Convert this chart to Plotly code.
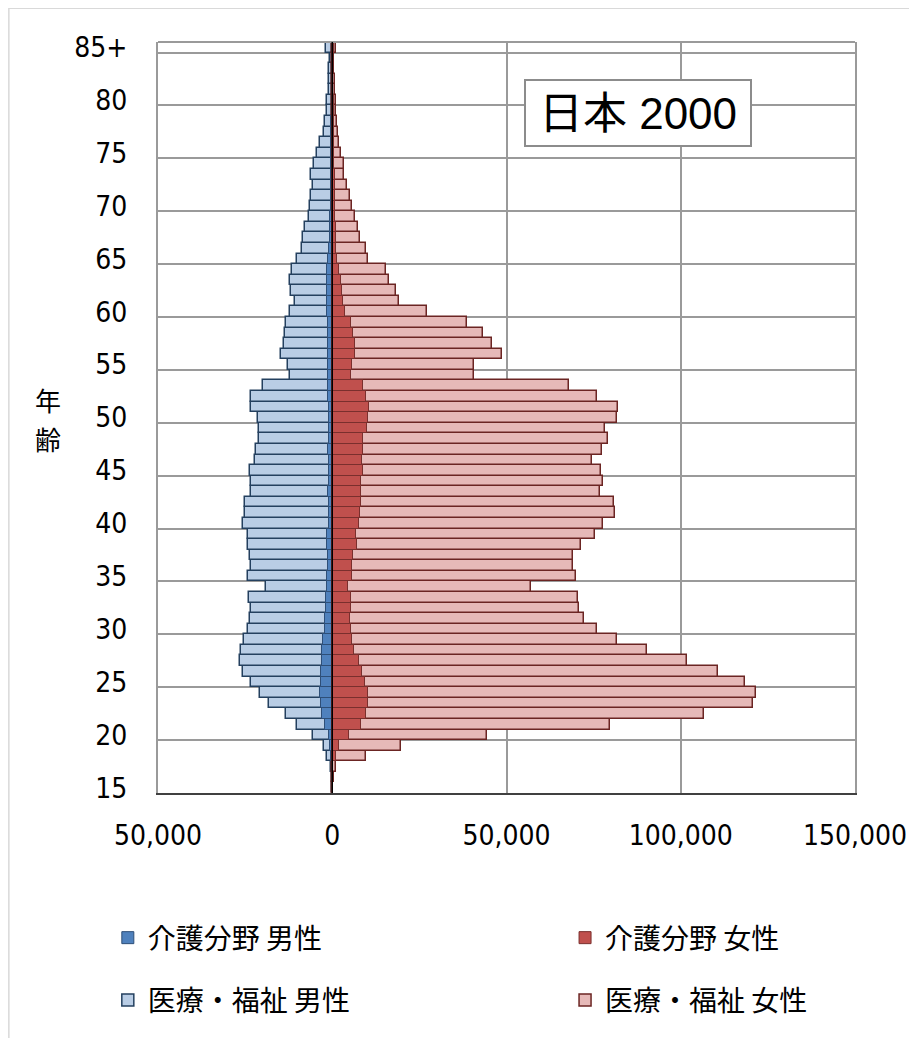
import plotly.graph_objects as go

# ages 15..84 and 85+ (85 stands for 85+)
ages = list(range(15, 86))
age_ticks = [15, 20, 25, 30, 35, 40, 45, 50, 55, 60, 65, 70, 75, 80, 85]
age_ticktext = ["15", "20", "25", "30", "35", "40", "45", "50", "55", "60", "65", "70", "75", "80", "85+"]

# counts in thousands
iryo_male = [0.1, 0.2, 0.3, 1.4, 2.3, 5.6, 10.2, 13.3, 18.2, 20.6,
             23.2, 25.5, 26.5, 26.3, 25.2, 24.3, 23.7, 23.4, 23.8, 19.1,
             24.3, 23.3, 23.5, 24.3, 24.2, 25.6, 24.9, 24.9, 23.4, 23.2,
             23.6, 22.2, 21.9, 21.1, 21.1, 21.2, 23.4, 23.2, 19.8, 12.2,
             12.8, 14.7, 13.9, 13.6, 13.4, 12.1, 10.7, 11.8, 12.1, 11.6,
             10.1, 8.8, 8.3, 7.7, 6.8, 6.4, 6.2, 5.6, 6.0, 5.1,
             4.3, 3.4, 2.5, 2.1, 1.6, 1.5, 0.8, 0.8, 0.8, 0.6, 1.7]
kaigo_male = [0.0, 0.05, 0.1, 0.3, 0.6, 0.8, 2.0, 2.9, 3.1, 3.4,
              3.2, 3.2, 2.9, 2.9, 2.7, 2.2, 2.0, 1.9, 1.7, 1.4,
              1.4, 1.3, 1.2, 1.4, 1.4, 1.0, 1.0, 1.0, 1.1, 1.0,
              1.0, 1.0, 1.1, 0.9, 1.0, 1.0, 1.0, 1.1, 1.2, 1.3,
              1.3, 1.3, 1.2, 1.2, 1.3, 1.4, 1.4, 1.4, 1.5, 1.4,
              1.1, 0.9, 0.7, 0.6, 0.6, 0.5, 0.5, 0.4, 0.4, 0.4,
              0.3, 0.3, 0.3, 0.3, 0.2, 0.2, 0.2, 0.2, 0.2, 0.1, 0.2]
iryo_female = [0.2, 0.5, 1.0, 9.6, 19.7, 44.3, 79.6, 106.7, 120.6, 121.5,
               118.4, 110.6, 101.7, 90.2, 81.6, 76.1, 72.2, 70.8, 70.6, 57.0,
               70.0, 69.0, 69.2, 71.4, 75.3, 77.8, 81.1, 80.9, 76.8, 77.6,
               77.0, 74.4, 77.4, 79.0, 78.2, 81.7, 82.0, 76.1, 68.0, 40.8,
               40.6, 48.6, 45.9, 43.3, 38.6, 27.3, 19.1, 18.4, 16.3, 15.4,
               10.4, 9.6, 8.1, 7.3, 6.4, 5.7, 5.2, 4.3, 3.5, 3.3,
               2.4, 1.9, 1.7, 1.3, 1.2, 1.0, 0.7, 0.8, 0.6, 0.5, 1.0]
kaigo_female = [0.1, 0.2, 0.3, 1.2, 1.9, 4.8, 8.2, 9.7, 10.4, 10.2,
                9.5, 8.6, 7.7, 6.2, 5.6, 5.5, 5.2, 5.3, 5.3, 4.5,
                5.8, 5.7, 5.9, 7.1, 6.8, 7.6, 7.9, 8.2, 8.2, 8.3,
                8.8, 8.5, 8.8, 8.8, 9.9, 10.2, 10.5, 9.7, 8.9, 5.5,
                5.6, 6.4, 6.4, 5.9, 5.3, 3.8, 3.0, 2.7, 2.4, 1.9,
                1.3, 1.1, 1.0, 1.0, 0.9, 0.8, 0.8, 0.7, 0.7, 0.6,
                0.6, 0.5, 0.5, 0.5, 0.4, 0.4, 0.3, 0.3, 0.3, 0.3, 0.5]

x_ticks = [-50000, 0, 50000, 100000, 150000]
x_ticktext = ["50,000", "0", "50,000", "100,000", "150,000"]

num_font = "DejaVu Sans Condensed, Liberation Sans Narrow, Liberation Sans, Arial"
cjk_font = "Noto Sans CJK JP, Noto Sans CJK SC, sans-serif"

fig = go.Figure()

# light bars first so the dark 介護 bars sit on top
fig.add_trace(go.Bar(
    y=ages, x=[-v * 1000 for v in iryo_male], orientation="h",
    name="医療・福祉 男性", legend="legend3",
    marker=dict(color="#B9CDE5", line=dict(color="#24405F", width=1.5)),
))
fig.add_trace(go.Bar(
    y=ages, x=[v * 1000 for v in iryo_female], orientation="h",
    name="医療・福祉 女性", legend="legend4",
    marker=dict(color="#E6B9B8", line=dict(color="#6B2523", width=1.5)),
))
fig.add_trace(go.Bar(
    y=ages, x=[-v * 1000 for v in kaigo_male], orientation="h",
    name="介護分野 男性", legend="legend",
    marker=dict(color="#4F81BD", line=dict(color="#2E4F78", width=1)),
))
fig.add_trace(go.Bar(
    y=ages, x=[v * 1000 for v in kaigo_female], orientation="h",
    name="介護分野 女性", legend="legend2",
    marker=dict(color="#C0504D", line=dict(color="#7A2F2D", width=1)),
))

legend_common = dict(
    orientation="h", xanchor="left", yanchor="middle",
    font=dict(family=cjk_font, size=28, color="#000000"),
    bgcolor="rgba(0,0,0,0)",
)
col1, col2 = -0.072, 0.584
row1, row2 = -0.193, -0.276

fig.update_layout(
    width=917, height=1038,
    margin=dict(l=150, r=70, t=34, b=253, autoexpand=False),
    paper_bgcolor="white", plot_bgcolor="white",
    barmode="overlay", bargap=0.0,
    showlegend=True,
    legend=dict(x=col1, y=row1, **legend_common),
    legend2=dict(x=col2, y=row1, **legend_common),
    legend3=dict(x=col1, y=row2, **legend_common),
    legend4=dict(x=col2, y=row2, **legend_common),
    xaxis=dict(
        range=[-50000, 150000], tickmode="array",
        tickvals=x_ticks, ticktext=x_ticktext,
        showgrid=True, gridcolor="#9A9A9A", gridwidth=2,
        zeroline=False, showline=True, linecolor="#404040", linewidth=2,
        ticks="", ticklabelstandoff=16,
        tickfont=dict(family=num_font, size=28, color="#000000"),
    ),
    yaxis=dict(
        range=[14.5, 85.5], tickmode="array",
        tickvals=age_ticks, ticktext=age_ticktext,
        showgrid=False, zeroline=False,
        showline=True, linecolor="#9A9A9A", linewidth=2, mirror=True,
        minor=dict(tick0=14.5, dtick=5, showgrid=True, gridcolor="#9A9A9A", gridwidth=2),
        ticks="", ticklabelstandoff=23,
        tickfont=dict(family=num_font, size=28, color="#000000"),
    ),
    shapes=[
        # top frame line
        dict(type="line", xref="paper", yref="paper", x0=0, x1=1, y0=1, y1=1,
             line=dict(color="#9A9A9A", width=2)),
        # vertical category axis at zero
        dict(type="line", xref="x", yref="paper", x0=0, x1=0, y0=0, y1=1,
             line=dict(color="#000000", width=1.5), layer="above"),
        # outer chart border
        dict(type="rect", xref="paper", yref="paper", x0=-0.214, x1=1.2, y0=-0.4, y1=1.045,
             line=dict(color="#D9D9D9", width=1.5), layer="below"),
    ],
    annotations=[
        dict(text="日本 2000", xref="paper", yref="paper", x=0.689, y=0.905,
             showarrow=False, xanchor="center", yanchor="middle",
             font=dict(family="Liberation Sans, Arial, Noto Sans CJK JP", size=44, color="#000000"),
             bgcolor="white", bordercolor="#8C8C8C", borderwidth=2,
             width=222, height=62, borderpad=1),
        dict(text="年", xref="paper", yref="paper", x=-0.158, y=0.524,
             showarrow=False, xanchor="center", yanchor="middle", borderpad=0,
             font=dict(family=cjk_font, size=26, color="#000000")),
        dict(text="齢", xref="paper", yref="paper", x=-0.158, y=0.472,
             showarrow=False, xanchor="center", yanchor="middle", borderpad=0,
             font=dict(family=cjk_font, size=26, color="#000000")),
    ],
)

fig.write_html("out.html")
